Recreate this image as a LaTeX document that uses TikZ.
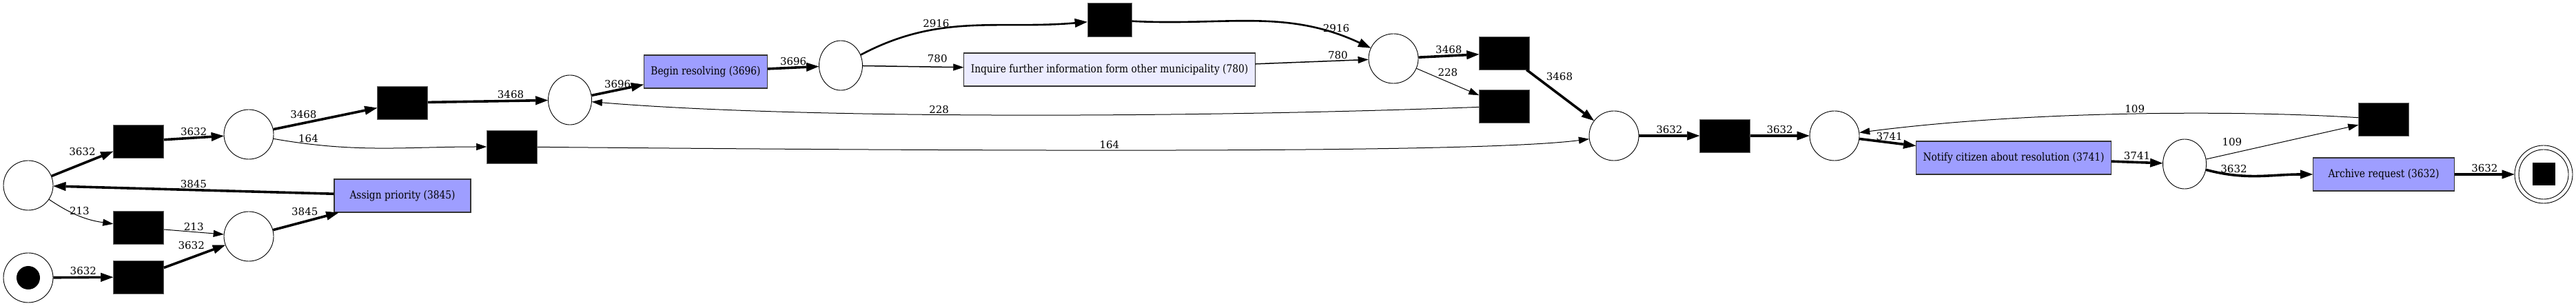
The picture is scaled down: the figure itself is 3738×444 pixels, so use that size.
\documentclass[tikz,border=0pt]{standalone}
\usepackage{fontspec}
\setmainfont{DejaVu Serif}
\newfontfamily\actfamily[FakeStretch=0.86]{DejaVu Serif}
\usetikzlibrary{arrows.meta,shapes.geometric}

\definecolor{actblue}{RGB}{158,158,255}
\definecolor{actpale}{RGB}{236,236,255}
\newcommand{\actfont}{\actfamily\fontsize{16}{18}\selectfont}
\newcommand{\wtfont}{\fontsize{15}{17}\selectfont}

\tikzset{
  place/.style={ellipse, draw, line width=0.9pt, minimum width=72pt,
    minimum height=72pt, inner sep=0pt},
  narrowplace/.style={place, minimum width=63pt},
  silent/.style={rectangle, fill=black, draw=black!60, line width=0.6pt,
    minimum width=73pt, minimum height=48pt, inner sep=0pt},
  activity/.style={rectangle, draw=black!80, line width=1.1pt,
    minimum height=48pt, inner xsep=10pt, font=\actfont},
  flow/.style={line width=#1,
    -{Triangle[length=15pt,width=10pt,line width=0.5pt]}},
  boldflow/.style={line width=#1,
    -{Triangle[length=18pt,width=13pt,line width=0.5pt]}},
  wt/.style={font=\wtfont, inner sep=1.5pt}
}

\begin{document}
\begin{tikzpicture}[x=1pt, y=1pt]
  \useasboundingbox (0,0) rectangle (3738,444);

  % Places and transitions
  \node[place] (pstart) at (41,41) {};
  \node[circle, fill=black, minimum size=34pt, inner sep=0pt] (token) at (pstart) {};
  \node[place] (p1) at (41,175) {};
  \node[silent] (ta) at (201,239) {};
  \node[silent] (tb) at (201,114) {};
  \node[silent] (tc) at (201,42) {};
  \node[place] (p2) at (361,249) {};
  \node[place] (p3) at (361,101) {};
  \node[activity, fill=actblue, minimum width=198pt] (assign) at (584,160) {Assign priority (3845)};
  \node[silent] (td) at (584,295) {};
  \node[silent] (te) at (743,231) {};
  \node[narrowplace] (p4) at (827,299) {};
  \node[activity, fill=actblue, minimum width=178pt] (begin) at (1024,340) {Begin resolving (3696)};
  \node[narrowplace] (p5) at (1220,349) {};
  \node[silent, minimum width=64pt, minimum height=49pt] (tf) at (1610,415) {};
  \node[activity, fill=actpale, minimum width=422pt] (inquire) at (1610,343) {Inquire further information form other municipality (780)};
  \node[place] (p6) at (2022,359) {};
  \node[silent] (tg) at (2183,367) {};
  \node[silent] (th) at (2183,290) {};
  \node[place] (p7) at (2342,247) {};
  \node[silent] (ti) at (2503,247) {};
  \node[place] (p8) at (2662,247) {};
  \node[activity, fill=actblue, minimum width=282pt] (notify) at (2922,215) {Notify citizen about resolution (3741)};
  \node[narrowplace] (p9) at (3170,206) {};
  \node[silent] (tj) at (3459,271) {};
  \node[activity, fill=actblue, minimum width=205pt] (archive) at (3459,191) {Archive request (3632)};
  \node[place, minimum width=84pt, minimum height=84pt] (pend) at (3691,191) {};
  \node[circle, draw, line width=0.9pt, minimum size=72pt, inner sep=0pt] (pendin) at (pend) {};
  \node[rectangle, fill=black, minimum size=33pt, inner sep=0pt] (stopmark) at (pend) {};

  % Arcs of the first part
  \draw[boldflow=3.6pt] (pstart) -- node[wt, above] {3632} (tc);
  \draw[boldflow=3.6pt] (tc) -- node[wt, above left, pos=0.7] {3632} (p3);
  \draw[boldflow=3.6pt] (p1) -- node[wt, above left, pos=0.75] {3632} (ta);
  \draw[flow=1pt] (p1) to[out=-34, in=172] node[wt, above] {213} (tb);
  \draw[flow=1pt] (tb) -- node[wt, above] {213} (p3);
  \draw[boldflow=3.6pt] (ta) -- node[wt, above] {3632} (p2);
  \draw[boldflow=3.6pt] (p3) -- node[wt, above left, pos=0.72] {3845} (assign);
  \draw[boldflow=3.6pt] (assign) -- node[wt, above] {3845} (p1);
  \draw[boldflow=3.6pt] (p2) -- node[wt, above=4pt, pos=0.29] {3468} (td);
  \draw[flow=1pt] (p2) to[out=-10, in=180] node[wt, above, pos=0.15] {164} (te);
  \draw[boldflow=3.6pt] (td) -- node[wt, above, pos=0.69] {3468} (p4);
  \draw[flow=1pt] (te) .. controls (1500,224) and (2150,222) .. node[wt, above, pos=0.415] {164} (p7);

  % Resolving and the loop back
  \draw[boldflow=3.6pt] (p4) -- node[wt, above] {3696} (begin);
  \draw[boldflow=3.6pt] (begin) -- node[wt, above] {3696} (p5);
  \draw[boldflow=2.6pt] (p5) to[out=28, in=185] node[wt, above, pos=0.34] {2916} (tf);
  \draw[flow=1.5pt] (p5) -- node[wt, above=4pt, pos=0.74] {780} (inquire);
  \draw[boldflow=2.6pt] (tf) to[out=-3, in=155] node[wt, above, pos=0.86] {2916} (p6);
  \draw[flow=1.5pt] (inquire) -- node[wt, above, pos=0.73] {780} (p6);
  \draw[boldflow=3.6pt] (p6) -- node[wt, above] {3468} (tg);
  \draw[flow=1pt] (p6) -- node[wt, above=6pt] {228} (th);
  \draw[flow=1pt] (th) .. controls (1700,272) and (1150,272) .. node[wt, above, pos=0.56] {228} (p4);
  \draw[boldflow=3.6pt] (tg) -- node[wt, above right, pos=0.26] {3468} (p7);

  % Notification and archive
  \draw[boldflow=3.6pt] (p7) -- node[wt, above] {3632} (ti);
  \draw[boldflow=3.6pt] (ti) -- node[wt, above] {3632} (p8);
  \draw[boldflow=3.6pt] (p8) -- node[wt, above, pos=0.53] {3741} (notify);
  \draw[boldflow=3.6pt] (notify) -- node[wt, above] {3741} (p9);
  \draw[flow=1pt] (p9) -- node[wt, above=9pt, pos=0.17] {109} (tj);
  \draw[flow=1pt] (tj) .. controls (3250,284) and (2950,284) .. node[wt, above, pos=0.49] {109} (p8);
  \draw[boldflow=3.6pt] (p9) to[out=-15, in=180] node[wt, above, pos=0.25] {3632} (archive);
  \draw[boldflow=3.6pt] (archive) -- node[wt, above] {3632} (pend);
\end{tikzpicture}
\end{document}
